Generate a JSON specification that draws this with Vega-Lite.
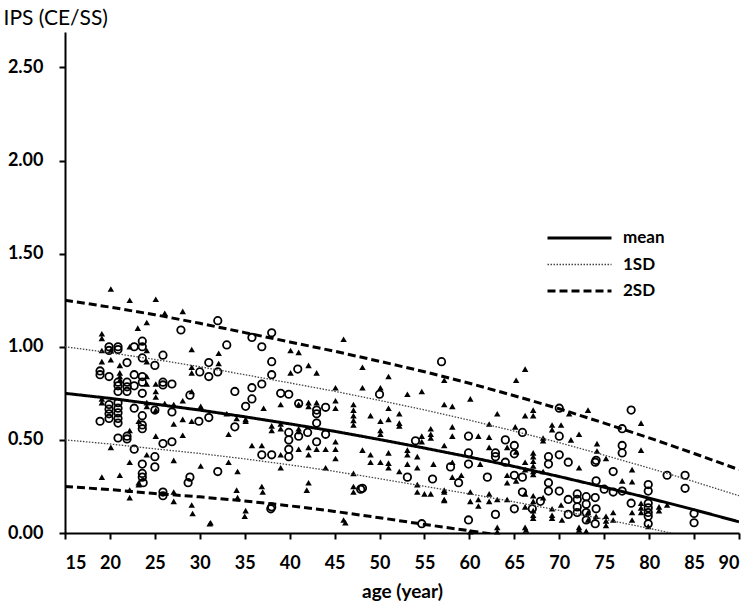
{
  "$schema": "https://vega.github.io/schema/vega-lite/v6.json",
  "width": 674,
  "height": 501,
  "autosize": "none",
  "padding": {"left": 65, "top": 32, "right": 17, "bottom": 74},
  "config": {
    "font": "Lato",
    "view": {"stroke": null},
    "axis": {"grid": false, "domainColor": "black", "domainWidth": 2, "tickColor": "black", "tickWidth": 2, "tickSize": 6, "labelColor": "black", "labelFontWeight": "bold", "labelFontSize": 18, "titleColor": "black"}
  },
  "datasets": {
    "curves": [
      {"a":15,"v":0.75,"s":"mean","k":"m"},{"a":20,"v":0.723,"s":"mean","k":"m"},{"a":25,"v":0.692,"s":"mean","k":"m"},{"a":30,"v":0.66,"s":"mean","k":"m"},{"a":35,"v":0.624,"s":"mean","k":"m"},{"a":40,"v":0.586,"s":"mean","k":"m"},{"a":45,"v":0.546,"s":"mean","k":"m"},{"a":50,"v":0.502,"s":"mean","k":"m"},{"a":55,"v":0.456,"s":"mean","k":"m"},{"a":60,"v":0.408,"s":"mean","k":"m"},{"a":65,"v":0.357,"s":"mean","k":"m"},{"a":70,"v":0.303,"s":"mean","k":"m"},{"a":75,"v":0.246,"s":"mean","k":"m"},{"a":80,"v":0.187,"s":"mean","k":"m"},{"a":85,"v":0.125,"s":"mean","k":"m"},{"a":90,"v":0.06,"s":"mean","k":"m"},
      {"a":15,"v":1.0,"s":"1SD","k":"u1"},{"a":20,"v":0.968,"s":"1SD","k":"u1"},{"a":25,"v":0.932,"s":"1SD","k":"u1"},{"a":30,"v":0.893,"s":"1SD","k":"u1"},{"a":35,"v":0.85,"s":"1SD","k":"u1"},{"a":40,"v":0.806,"s":"1SD","k":"u1"},{"a":45,"v":0.761,"s":"1SD","k":"u1"},{"a":50,"v":0.712,"s":"1SD","k":"u1"},{"a":55,"v":0.661,"s":"1SD","k":"u1"},{"a":60,"v":0.606,"s":"1SD","k":"u1"},{"a":65,"v":0.547,"s":"1SD","k":"u1"},{"a":70,"v":0.485,"s":"1SD","k":"u1"},{"a":75,"v":0.418,"s":"1SD","k":"u1"},{"a":80,"v":0.349,"s":"1SD","k":"u1"},{"a":85,"v":0.276,"s":"1SD","k":"u1"},{"a":90,"v":0.2,"s":"1SD","k":"u1"},
      {"a":15,"v":0.5,"s":"1SD","k":"l1"},{"a":20,"v":0.478,"s":"1SD","k":"l1"},{"a":25,"v":0.452,"s":"1SD","k":"l1"},{"a":30,"v":0.427,"s":"1SD","k":"l1"},{"a":35,"v":0.398,"s":"1SD","k":"l1"},{"a":40,"v":0.366,"s":"1SD","k":"l1"},{"a":45,"v":0.331,"s":"1SD","k":"l1"},{"a":50,"v":0.292,"s":"1SD","k":"l1"},{"a":55,"v":0.251,"s":"1SD","k":"l1"},{"a":60,"v":0.21,"s":"1SD","k":"l1"},{"a":65,"v":0.167,"s":"1SD","k":"l1"},{"a":70,"v":0.121,"s":"1SD","k":"l1"},{"a":75,"v":0.074,"s":"1SD","k":"l1"},{"a":80,"v":0.025,"s":"1SD","k":"l1"},{"a":85,"v":-0.026,"s":"1SD","k":"l1"},{"a":90,"v":-0.08,"s":"1SD","k":"l1"},
      {"a":15,"v":1.25,"s":"2SD","k":"u2"},{"a":20,"v":1.213,"s":"2SD","k":"u2"},{"a":25,"v":1.172,"s":"2SD","k":"u2"},{"a":30,"v":1.126,"s":"2SD","k":"u2"},{"a":35,"v":1.076,"s":"2SD","k":"u2"},{"a":40,"v":1.026,"s":"2SD","k":"u2"},{"a":45,"v":0.976,"s":"2SD","k":"u2"},{"a":50,"v":0.922,"s":"2SD","k":"u2"},{"a":55,"v":0.866,"s":"2SD","k":"u2"},{"a":60,"v":0.804,"s":"2SD","k":"u2"},{"a":65,"v":0.737,"s":"2SD","k":"u2"},{"a":70,"v":0.667,"s":"2SD","k":"u2"},{"a":75,"v":0.59,"s":"2SD","k":"u2"},{"a":80,"v":0.511,"s":"2SD","k":"u2"},{"a":85,"v":0.427,"s":"2SD","k":"u2"},{"a":90,"v":0.34,"s":"2SD","k":"u2"},
      {"a":15,"v":0.25,"s":"2SD","k":"l2"},{"a":20,"v":0.233,"s":"2SD","k":"l2"},{"a":25,"v":0.212,"s":"2SD","k":"l2"},{"a":30,"v":0.194,"s":"2SD","k":"l2"},{"a":35,"v":0.172,"s":"2SD","k":"l2"},{"a":40,"v":0.146,"s":"2SD","k":"l2"},{"a":45,"v":0.116,"s":"2SD","k":"l2"},{"a":50,"v":0.082,"s":"2SD","k":"l2"},{"a":55,"v":0.046,"s":"2SD","k":"l2"},{"a":60,"v":0.012,"s":"2SD","k":"l2"},{"a":65,"v":-0.023,"s":"2SD","k":"l2"},{"a":70,"v":-0.061,"s":"2SD","k":"l2"}
    ],
    "tri": [
      {"a":20.1,"v":1.31},{"a":22.2,"v":1.25},{"a":25.1,"v":1.255},{"a":28.1,"v":1.19},{"a":26.1,"v":1.18},{"a":24.1,"v":1.13},{"a":23.1,"v":1.1},{"a":19.1,"v":1.07},{"a":19.1,"v":1.045},{"a":19.1,"v":0.98},{"a":20.1,"v":0.98},{"a":22.2,"v":1.0},{"a":24.1,"v":0.98},{"a":29.1,"v":0.985},{"a":32.1,"v":0.965},{"a":19.1,"v":0.92},{"a":20.1,"v":0.93},{"a":21.1,"v":0.9},{"a":21.1,"v":0.86},{"a":24.1,"v":0.92},{"a":21.1,"v":0.84},{"a":21.1,"v":0.82},{"a":29.1,"v":0.89},{"a":29.1,"v":0.86},{"a":32.1,"v":0.91},{"a":24.1,"v":0.84},{"a":24.1,"v":0.8},{"a":25.1,"v":0.8},{"a":25.1,"v":0.76},{"a":25.1,"v":0.73},{"a":28.1,"v":0.71},{"a":29.1,"v":0.76},{"a":19.1,"v":0.72},{"a":19.1,"v":0.7},{"a":24.1,"v":0.7},{"a":24.1,"v":0.68},{"a":25.1,"v":0.66},{"a":23.2,"v":0.6},{"a":26.1,"v":0.695},{"a":27.1,"v":0.69},{"a":27.1,"v":0.585},{"a":28.1,"v":0.61},{"a":29.1,"v":0.6},{"a":30.1,"v":0.68},{"a":33.0,"v":0.64},{"a":34.1,"v":0.615},{"a":35.1,"v":0.61},{"a":35.1,"v":0.6},{"a":22.2,"v":0.55},{"a":25.1,"v":0.52},{"a":28.1,"v":0.525},{"a":33.2,"v":0.53},{"a":20.1,"v":0.46},{"a":22.2,"v":0.38},{"a":24.1,"v":0.42},{"a":27.1,"v":0.39},{"a":30.1,"v":0.36},{"a":33.2,"v":0.38},{"a":19.1,"v":0.3},{"a":21.1,"v":0.31},{"a":23.2,"v":0.27},{"a":22.2,"v":0.23},{"a":27.1,"v":0.22},{"a":29.1,"v":0.15},{"a":31.1,"v":0.05},{"a":34.1,"v":0.23},{"a":35.1,"v":0.12},{"a":34.2,"v":0.33},
      {"a":46.0,"v":1.04},{"a":40.1,"v":0.98},{"a":41.0,"v":0.97},{"a":42.1,"v":0.9},{"a":43.0,"v":0.86},{"a":40.1,"v":0.86},{"a":48.1,"v":0.89},{"a":51.0,"v":0.84},{"a":45.1,"v":0.78},{"a":48.1,"v":0.78},{"a":50.1,"v":0.78},{"a":53.1,"v":0.745},{"a":54.7,"v":0.76},{"a":39.0,"v":0.69},{"a":41.0,"v":0.69},{"a":42.1,"v":0.7},{"a":42.1,"v":0.68},{"a":43.0,"v":0.7},{"a":45.1,"v":0.71},{"a":45.1,"v":0.67},{"a":47.1,"v":0.69},{"a":47.1,"v":0.66},{"a":47.1,"v":0.63},{"a":47.1,"v":0.605},{"a":47.1,"v":0.58},{"a":49.0,"v":0.63},{"a":50.1,"v":0.6},{"a":50.1,"v":0.55},{"a":50.1,"v":0.53},{"a":51.0,"v":0.67},{"a":51.0,"v":0.61},{"a":52.2,"v":0.64},{"a":52.2,"v":0.59},{"a":52.2,"v":0.575},{"a":37.1,"v":0.67},{"a":38.0,"v":0.575},{"a":38.0,"v":0.55},{"a":39.0,"v":0.585},{"a":39.0,"v":0.56},{"a":41.0,"v":0.56},{"a":41.0,"v":0.545},{"a":45.1,"v":0.49},{"a":45.1,"v":0.45},{"a":45.1,"v":0.4},{"a":41.0,"v":0.45},{"a":42.1,"v":0.46},{"a":42.1,"v":0.42},{"a":43.0,"v":0.45},{"a":44.0,"v":0.45},{"a":35.8,"v":0.47},{"a":36.9,"v":0.47},{"a":39.0,"v":0.42},{"a":39.0,"v":0.35},{"a":44.0,"v":0.35},{"a":48.1,"v":0.445},{"a":49.0,"v":0.42},{"a":49.0,"v":0.38},{"a":50.1,"v":0.38},{"a":51.0,"v":0.43},{"a":51.0,"v":0.375},{"a":51.0,"v":0.35},{"a":53.1,"v":0.445},{"a":53.1,"v":0.42},{"a":53.1,"v":0.37},{"a":54.2,"v":0.41},{"a":54.2,"v":0.35},{"a":52.2,"v":0.33},{"a":47.1,"v":0.32},{"a":36.9,"v":0.25},{"a":42.1,"v":0.27},{"a":47.1,"v":0.25},{"a":54.2,"v":0.26},{"a":46.0,"v":0.07},{"a":54.7,"v":0.52},{"a":54.7,"v":0.49},
      {"a":66.2,"v":0.88},{"a":65.2,"v":0.82},{"a":57.2,"v":0.82},{"a":60.1,"v":0.72},{"a":58.1,"v":0.68},{"a":57.2,"v":0.69},{"a":63.1,"v":0.64},{"a":66.2,"v":0.63},{"a":67.1,"v":0.66},{"a":67.1,"v":0.63},{"a":69.2,"v":0.58},{"a":69.2,"v":0.555},{"a":70.2,"v":0.58},{"a":62.2,"v":0.585},{"a":65.1,"v":0.57},{"a":68.2,"v":0.51},{"a":68.2,"v":0.495},{"a":72.2,"v":0.53},{"a":73.2,"v":0.66},{"a":71.1,"v":0.64},{"a":71.3,"v":0.5},{"a":58.1,"v":0.57},{"a":58.1,"v":0.52},{"a":57.2,"v":0.47},{"a":55.7,"v":0.56},{"a":55.7,"v":0.53},{"a":55.7,"v":0.51},{"a":61.0,"v":0.52},{"a":62.2,"v":0.515},{"a":62.2,"v":0.46},{"a":64.2,"v":0.46},{"a":65.2,"v":0.435},{"a":66.2,"v":0.38},{"a":67.1,"v":0.43},{"a":67.1,"v":0.41},{"a":67.1,"v":0.385},{"a":67.1,"v":0.36},{"a":67.1,"v":0.33},{"a":67.1,"v":0.315},{"a":68.2,"v":0.33},{"a":66.2,"v":0.34},{"a":72.2,"v":0.35},{"a":56.0,"v":0.37},{"a":58.1,"v":0.38},{"a":59.1,"v":0.31},{"a":58.1,"v":0.3},{"a":61.2,"v":0.37},{"a":64.2,"v":0.31},{"a":64.2,"v":0.27},{"a":65.2,"v":0.28},{"a":55.7,"v":0.21},{"a":57.2,"v":0.22},{"a":57.2,"v":0.175},{"a":60.1,"v":0.22},{"a":60.1,"v":0.17},{"a":61.0,"v":0.18},{"a":61.0,"v":0.145},{"a":62.2,"v":0.21},{"a":62.2,"v":0.17},{"a":63.1,"v":0.18},{"a":64.2,"v":0.18},{"a":66.2,"v":0.21},{"a":67.1,"v":0.2},{"a":67.1,"v":0.17},{"a":68.2,"v":0.19},{"a":66.2,"v":0.14},{"a":67.1,"v":0.12},{"a":67.1,"v":0.095},{"a":67.1,"v":0.08},{"a":69.2,"v":0.13},{"a":69.2,"v":0.095},{"a":69.2,"v":0.08},{"a":70.2,"v":0.15},{"a":70.3,"v":0.07},{"a":63.1,"v":0.03},{"a":66.2,"v":0.03},{"a":72.2,"v":0.03},{"a":73.2,"v":0.11},{"a":73.2,"v":0.07},
      {"a":79.1,"v":0.59},{"a":79.1,"v":0.445},{"a":78.1,"v":0.34},{"a":78.1,"v":0.275},{"a":74.2,"v":0.48},{"a":74.2,"v":0.44},{"a":75.2,"v":0.4},{"a":77.0,"v":0.28},{"a":81.1,"v":0.14},{"a":81.1,"v":0.12},{"a":82.0,"v":0.15},{"a":79.1,"v":0.16},{"a":79.1,"v":0.135},{"a":79.1,"v":0.11},{"a":76.0,"v":0.11},{"a":75.2,"v":0.09},{"a":76.0,"v":0.07},{"a":75.2,"v":0.065},{"a":74.1,"v":0.09},{"a":78.1,"v":0.11},{"a":78.1,"v":0.07},{"a":79.9,"v":0.035},{"a":75.2,"v":0.04},
      {"a":60.1,"v":0.007},{"a":63.1,"v":0.007},{"a":66.3,"v":0.016},{"a":72.2,"v":0.016},{"a":73.0,"v":0.01},{"a":22.2,"v":0.19},{"a":23.2,"v":0.26},{"a":27.1,"v":0.17},{"a":29.2,"v":0.105},{"a":31.2,"v":0.055},{"a":34.2,"v":0.19},{"a":35.0,"v":0.09},{"a":37.0,"v":0.22},{"a":41.9,"v":0.23},{"a":47.1,"v":0.22},{"a":46.2,"v":0.055},{"a":54.2,"v":0.22},{"a":55.0,"v":0.21},{"a":57.2,"v":0.23},{"a":57.2,"v":0.18}
    ],
    "circ": [
      {"a":32.0,"v":1.14},{"a":27.9,"v":1.09},{"a":35.8,"v":1.05},{"a":19.9,"v":1.0},{"a":20.9,"v":1.0},{"a":19.9,"v":0.98},{"a":20.9,"v":0.985},{"a":22.7,"v":1.0},{"a":23.6,"v":1.03},{"a":23.6,"v":1.0},{"a":33.0,"v":1.01},{"a":23.6,"v":0.94},{"a":25.9,"v":0.955},{"a":21.9,"v":0.915},{"a":18.9,"v":0.87},{"a":18.9,"v":0.85},{"a":19.9,"v":0.84},{"a":22.7,"v":0.85},{"a":23.6,"v":0.84},{"a":25.0,"v":0.9},{"a":31.0,"v":0.915},{"a":30.0,"v":0.865},{"a":31.0,"v":0.84},{"a":32.0,"v":0.865},{"a":20.9,"v":0.81},{"a":21.9,"v":0.81},{"a":20.9,"v":0.79},{"a":21.9,"v":0.785},{"a":20.9,"v":0.76},{"a":21.9,"v":0.76},{"a":22.7,"v":0.79},{"a":23.6,"v":0.81},{"a":23.6,"v":0.75},{"a":25.9,"v":0.81},{"a":25.9,"v":0.795},{"a":26.9,"v":0.8},{"a":28.9,"v":0.74},{"a":33.9,"v":0.76},{"a":35.8,"v":0.78},{"a":35.8,"v":0.72},{"a":35.1,"v":0.68},{"a":19.9,"v":0.69},{"a":20.9,"v":0.7},{"a":19.9,"v":0.665},{"a":20.9,"v":0.67},{"a":19.9,"v":0.64},{"a":20.9,"v":0.645},{"a":19.9,"v":0.615},{"a":20.9,"v":0.615},{"a":20.9,"v":0.59},{"a":18.9,"v":0.6},{"a":22.7,"v":0.67},{"a":23.6,"v":0.63},{"a":23.6,"v":0.58},{"a":23.6,"v":0.56},{"a":25.0,"v":0.66},{"a":26.9,"v":0.65},{"a":29.9,"v":0.6},{"a":31.0,"v":0.62},{"a":33.9,"v":0.57},{"a":20.9,"v":0.51},{"a":21.9,"v":0.52},{"a":21.9,"v":0.505},{"a":25.9,"v":0.48},{"a":26.9,"v":0.49},{"a":22.7,"v":0.45},{"a":25.0,"v":0.41},{"a":23.6,"v":0.37},{"a":25.0,"v":0.355},{"a":23.6,"v":0.32},{"a":23.6,"v":0.3},{"a":28.9,"v":0.3},{"a":32.0,"v":0.33},{"a":25.9,"v":0.22},
      {"a":38.0,"v":1.075},{"a":36.9,"v":1.0},{"a":38.0,"v":0.92},{"a":38.0,"v":0.85},{"a":40.9,"v":0.88},{"a":36.9,"v":0.8},{"a":39.0,"v":0.75},{"a":39.9,"v":0.745},{"a":41.0,"v":0.695},{"a":43.0,"v":0.66},{"a":43.0,"v":0.64},{"a":44.0,"v":0.675},{"a":43.0,"v":0.59},{"a":39.9,"v":0.54},{"a":39.9,"v":0.5},{"a":41.0,"v":0.52},{"a":42.0,"v":0.54},{"a":43.0,"v":0.49},{"a":44.0,"v":0.53},{"a":36.9,"v":0.42},{"a":38.0,"v":0.42},{"a":39.9,"v":0.45},{"a":39.9,"v":0.41},{"a":50.0,"v":0.745},{"a":54.0,"v":0.495},{"a":53.1,"v":0.3},{"a":48.1,"v":0.24},{"a":38.0,"v":0.14},{"a":54.7,"v":0.05},
      {"a":56.9,"v":0.92},{"a":70.0,"v":0.67},{"a":65.9,"v":0.54},{"a":70.0,"v":0.52},{"a":59.9,"v":0.52},{"a":64.0,"v":0.5},{"a":65.0,"v":0.47},{"a":65.0,"v":0.425},{"a":62.9,"v":0.43},{"a":62.9,"v":0.41},{"a":68.8,"v":0.41},{"a":70.0,"v":0.42},{"a":68.8,"v":0.37},{"a":71.0,"v":0.38},{"a":59.9,"v":0.43},{"a":59.9,"v":0.37},{"a":57.9,"v":0.355},{"a":64.0,"v":0.38},{"a":65.0,"v":0.31},{"a":65.9,"v":0.3},{"a":62.0,"v":0.3},{"a":55.9,"v":0.29},{"a":58.8,"v":0.27},{"a":65.9,"v":0.22},{"a":67.9,"v":0.17},{"a":68.8,"v":0.27},{"a":68.8,"v":0.225},{"a":70.0,"v":0.225},{"a":67.0,"v":0.13},{"a":65.0,"v":0.13},{"a":62.9,"v":0.1},{"a":59.9,"v":0.07},{"a":71.0,"v":0.18},{"a":72.0,"v":0.21},{"a":72.0,"v":0.18},{"a":73.0,"v":0.195},{"a":73.0,"v":0.155},{"a":72.0,"v":0.14},{"a":71.0,"v":0.1},{"a":72.0,"v":0.11},{"a":73.0,"v":0.11},{"a":73.0,"v":0.07},{"a":74.0,"v":0.05},{"a":74.0,"v":0.19},{"a":74.0,"v":0.38},
      {"a":78.0,"v":0.66},{"a":77.0,"v":0.56},{"a":77.0,"v":0.47},{"a":77.0,"v":0.43},{"a":76.0,"v":0.33},{"a":74.1,"v":0.39},{"a":82.0,"v":0.31},{"a":84.0,"v":0.31},{"a":79.9,"v":0.26},{"a":74.1,"v":0.28},{"a":75.0,"v":0.235},{"a":76.0,"v":0.22},{"a":77.0,"v":0.225},{"a":79.9,"v":0.225},{"a":84.0,"v":0.24},{"a":85.0,"v":0.105},{"a":85.0,"v":0.055},{"a":78.0,"v":0.16},{"a":79.9,"v":0.16},{"a":79.9,"v":0.135},{"a":79.9,"v":0.11},{"a":74.1,"v":0.13},{"a":79.9,"v":0.09},{"a":79.9,"v":0.05},
      {"a":23.7,"v":0.27},{"a":25.9,"v":0.2},{"a":28.7,"v":0.27},{"a":37.9,"v":0.13},{"a":47.9,"v":0.235}
    ]
  },
  "layer": [
    {
      "data": {"name": "tri"},
      "mark": {"type": "point", "shape": "triangle-up", "filled": true, "color": "black", "size": 42, "opacity": 1},
      "encoding": {
        "x": {"field": "a", "type": "quantitative", "scale": {"domain": [15, 90], "nice": false, "zero": false},
              "axis": {"values": [15,20,25,30,35,40,45,50,55,60,65,70,75,80,85,90], "labelPadding": 15, "title": "age (year)", "titleFontWeight": "bold", "titleFontSize": 19, "titlePadding": 10}},
        "y": {"field": "v", "type": "quantitative", "scale": {"domain": [0, 2.69], "nice": false},
              "axis": {"values": [0,0.5,1,1.5,2,2.5], "format": ".2f", "labelPadding": 16, "title": "IPS (CE/SS)", "titleAngle": 0, "titleAlign": "left", "titleBaseline": "middle", "titleX": -62, "titleY": -14, "titleFontWeight": "normal", "titleFontSize": 21}}
      }
    },
    {
      "data": {"name": "circ"},
      "mark": {"type": "point", "shape": "circle", "filled": false, "color": "black", "strokeWidth": 1.8, "size": 55, "opacity": 1},
      "encoding": {
        "x": {"field": "a", "type": "quantitative"},
        "y": {"field": "v", "type": "quantitative"}
      }
    },
    {
      "data": {"name": "curves"},
      "mark": {"type": "line", "clip": true},
      "encoding": {
        "x": {"field": "a", "type": "quantitative"},
        "y": {"field": "v", "type": "quantitative"},
        "detail": {"field": "k"},
        "color": {"field": "s", "type": "nominal", "scale": {"domain": ["mean","1SD","2SD"], "range": ["black","#444444","black"]}, "legend": {"title": null}},
        "strokeDash": {"field": "s", "type": "nominal", "scale": {"domain": ["mean","1SD","2SD"], "range": [[1,0],[1.5,1.5],[8,4]]}, "legend": {"title": null}},
        "strokeWidth": {"field": "s", "type": "nominal", "scale": {"type": "ordinal", "domain": ["mean","1SD","2SD"], "range": [3,1.3,3]},
          "legend": {"title": null, "orient": "none", "legendX": 481, "legendY": 196, "symbolType": "stroke", "symbolSize": 4096, "clipHeight": 20, "labelFontSize": 17, "labelFontWeight": "bold", "labelColor": "black", "labelOffset": 10, "rowPadding": 6.5}}
      }
    }
  ]
}
